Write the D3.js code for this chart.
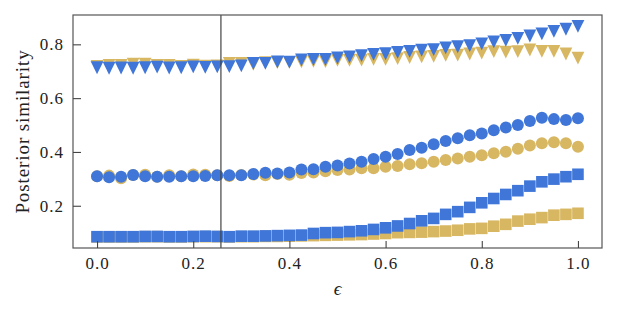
<!DOCTYPE html>
<html>
<head>
<meta charset="utf-8">
<script src="https://cdn.jsdelivr.net/npm/d3@7"></script>
<style>
  body { margin: 0; background: #fff; }
  svg text { font-family: "Liberation Serif", "DejaVu Serif", serif; fill: #222; }
</style>
</head>
<body>
<div id="chart"></div>
<script>
// epsilon grid (x values)
const eps = [0.000, 0.025, 0.050, 0.075, 0.100, 0.125, 0.150, 0.175, 0.200, 0.225,
             0.250, 0.275, 0.300, 0.325, 0.350, 0.375, 0.400, 0.425, 0.450, 0.475,
             0.500, 0.525, 0.550, 0.575, 0.600, 0.625, 0.650, 0.675, 0.700, 0.725,
             0.750, 0.775, 0.800, 0.825, 0.850, 0.875, 0.900, 0.925, 0.950, 0.975, 1.000];

const goldTriangles = [0.718, 0.722, 0.722, 0.726, 0.726, 0.722, 0.722, 0.718, 0.723, 0.719,
                       0.720, 0.729, 0.729, 0.726, 0.732, 0.732, 0.733, 0.735, 0.737, 0.736,
                       0.740, 0.740, 0.741, 0.744, 0.744, 0.747, 0.751, 0.753, 0.755, 0.759,
                       0.760, 0.764, 0.767, 0.773, 0.771, 0.773, 0.779, 0.774, 0.774, 0.764, 0.749];
const blueTriangles = [0.713, 0.711, 0.712, 0.711, 0.713, 0.715, 0.712, 0.713, 0.716, 0.714,
                       0.716, 0.717, 0.720, 0.729, 0.729, 0.735, 0.734, 0.742, 0.744, 0.744,
                       0.750, 0.753, 0.758, 0.763, 0.765, 0.770, 0.774, 0.778, 0.780, 0.787,
                       0.791, 0.795, 0.802, 0.809, 0.815, 0.822, 0.831, 0.839, 0.848, 0.856, 0.867];

const goldCircles = [0.310, 0.312, 0.302, 0.314, 0.315, 0.308, 0.313, 0.310, 0.316, 0.315,
                     0.313, 0.311, 0.314, 0.316, 0.313, 0.318, 0.315, 0.322, 0.324, 0.328,
                     0.333, 0.335, 0.339, 0.339, 0.345, 0.348, 0.354, 0.358, 0.364, 0.370,
                     0.376, 0.382, 0.388, 0.395, 0.401, 0.412, 0.424, 0.432, 0.436, 0.432, 0.419];
const blueCircles = [0.310, 0.306, 0.308, 0.314, 0.310, 0.308, 0.308, 0.310, 0.310, 0.311,
                     0.313, 0.313, 0.313, 0.318, 0.323, 0.320, 0.324, 0.335, 0.336, 0.345,
                     0.350, 0.357, 0.364, 0.374, 0.382, 0.392, 0.407, 0.416, 0.429, 0.441,
                     0.451, 0.462, 0.469, 0.481, 0.491, 0.500, 0.515, 0.527, 0.522, 0.519, 0.525];

const goldSquares = [0.084, 0.084, 0.084, 0.084, 0.085, 0.085, 0.084, 0.084, 0.085, 0.085,
                     0.085, 0.084, 0.085, 0.085, 0.086, 0.086, 0.087, 0.088, 0.089, 0.090,
                     0.091, 0.092, 0.093, 0.095, 0.097, 0.100, 0.101, 0.102, 0.104, 0.106,
                     0.109, 0.114, 0.116, 0.124, 0.131, 0.143, 0.150, 0.156, 0.165, 0.168, 0.172];
const blueSquares = [0.085, 0.085, 0.085, 0.085, 0.086, 0.086, 0.085, 0.085, 0.086, 0.087,
                     0.086, 0.085, 0.087, 0.087, 0.088, 0.089, 0.090, 0.091, 0.097, 0.100,
                     0.101, 0.104, 0.107, 0.112, 0.118, 0.125, 0.134, 0.144, 0.153, 0.168,
                     0.178, 0.194, 0.211, 0.227, 0.242, 0.256, 0.273, 0.289, 0.299, 0.308, 0.317];

const xTicks = [0.0, 0.2, 0.4, 0.6, 0.8, 1.0];
const yTicks = [0.2, 0.4, 0.6, 0.8];
const threshold = 0.2576;

const gold = "#d8b762";
const blue = "#3f76d8";

const width = 617, height = 314;
const margin = { top: 15, right: 15, bottom: 66, left: 73 };

const svg = d3.select("#chart").append("svg")
    .attr("width", width)
    .attr("height", height);

const x = d3.scaleLinear().domain([-0.05, 1.05]).range([margin.left, width - margin.right]);
const y = d3.scaleLinear().domain([0.043, 0.909]).range([height - margin.bottom, margin.top]);

// series, drawn gold first so blue sits on top
const series = [
    { values: goldTriangles, color: gold, shape: "tri" },
    { values: blueTriangles, color: blue, shape: "tri" },
    { values: goldCircles, color: gold, shape: "circle" },
    { values: blueCircles, color: blue, shape: "circle" },
    { values: goldSquares, color: gold, shape: "square" },
    { values: blueSquares, color: blue, shape: "square" }
];

// downward triangle, centred on its bounding box like matplotlib's "v"
const s = 6.4;
const triPath = `M0,${s}L${-s},${-s}L${s},${-s}Z`;
const circlePath = d3.symbol().type(d3.symbolCircle).size(Math.PI * 6 * 6)();
const squarePath = d3.symbol().type(d3.symbolSquare).size(11.6 * 11.6)();

const marks = svg.append("g");
series.forEach(sr => {
    const path = sr.shape === "tri" ? triPath : sr.shape === "circle" ? circlePath : squarePath;
    marks.append("g")
        .selectAll("path")
        .data(sr.values.map((v, i) => [eps[i], v]))
        .join("path")
        .attr("d", path)
        .attr("transform", d => `translate(${x(d[0])},${y(d[1])})`)
        .attr("fill", sr.color);
});

// vertical threshold line
svg.append("line")
    .attr("x1", x(threshold)).attr("x2", x(threshold))
    .attr("y1", margin.top).attr("y2", height - margin.bottom)
    .attr("stroke", "#444")
    .attr("stroke-width", 1.2);

// frame
svg.append("rect")
    .attr("x", margin.left).attr("y", margin.top)
    .attr("width", width - margin.left - margin.right)
    .attr("height", height - margin.top - margin.bottom)
    .attr("fill", "none")
    .attr("stroke", "#555")
    .attr("stroke-width", 1.2);

// axes with inward ticks
const xAxis = svg.append("g")
    .attr("transform", `translate(0,${height - margin.bottom})`)
    .call(d3.axisBottom(x).tickValues(xTicks).tickFormat(d3.format(".1f")).tickSize(-7).tickPadding(9));
const yAxis = svg.append("g")
    .attr("transform", `translate(${margin.left},0)`)
    .call(d3.axisLeft(y).tickValues(yTicks).tickFormat(d3.format(".1f")).tickSize(-8).tickPadding(9));

[xAxis, yAxis].forEach(a => {
    a.attr("font-family", null);
    a.select(".domain").remove();
    a.selectAll(".tick line").attr("stroke", "#444").attr("stroke-width", 1.1);
    a.selectAll(".tick text")
        .style("font-family", '"Liberation Serif", serif')
        .style("font-size", "17px")
        .style("letter-spacing", "1px")
        .attr("fill", "#222");
});

// axis labels
svg.append("text")
    .attr("x", (margin.left + width - margin.right) / 2)
    .attr("y", 295)
    .attr("text-anchor", "middle")
    .style("font-size", "19px")
    .style("font-style", "italic")
    .text("ϵ");

svg.append("text")
    .attr("transform", `translate(29,${(margin.top + height - margin.bottom) / 2}) rotate(-90)`)
    .attr("text-anchor", "middle")
    .style("font-size", "19px")
    .style("letter-spacing", "0.9px")
    .text("Posterior similarity");
</script>
</body>
</html>
